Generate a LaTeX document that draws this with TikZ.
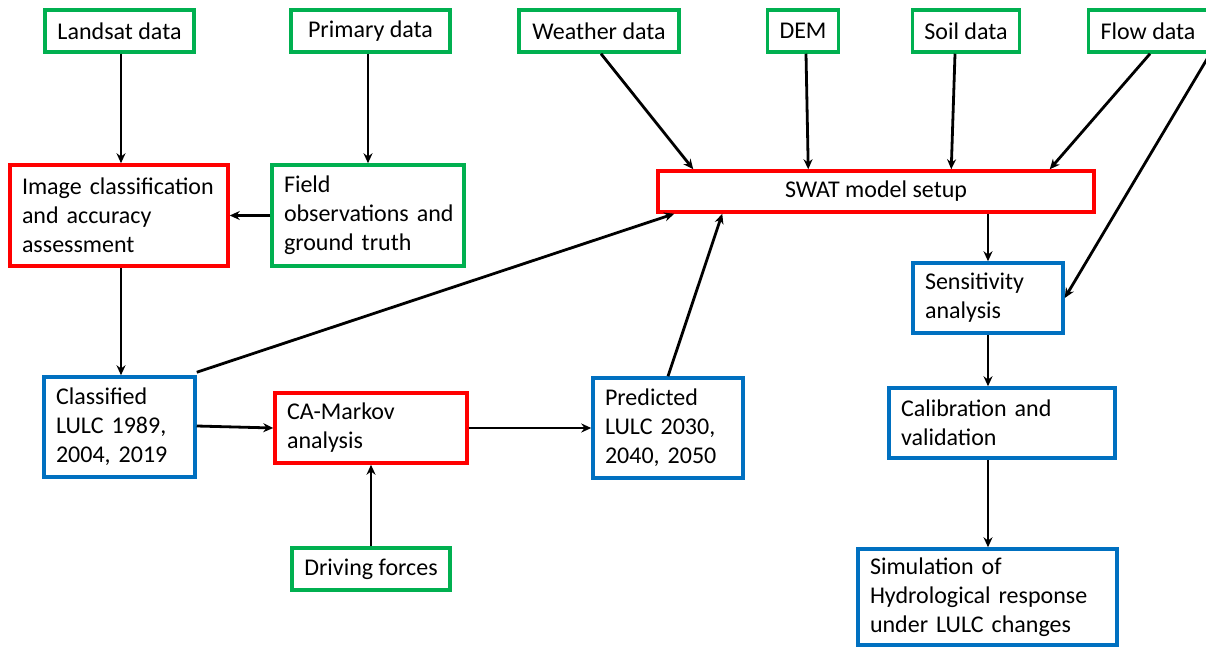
\documentclass[tikz,border=0pt]{standalone}
\usepackage{fontspec}
\setmainfont{Carlito}
\usetikzlibrary{arrows.meta,calc}
\definecolor{gr}{RGB}{0,176,80}
\definecolor{rd}{RGB}{255,0,0}
\definecolor{bl}{RGB}{0,112,192}
\tikzset{
  box/.style={draw, line width=3.5pt, inner xsep=12pt, inner ysep=0pt, font=\fontsize{24}{29}\selectfont},
  gbox/.style={box, draw=gr},
  rbox/.style={box, draw=rd},
  bbox/.style={box, draw=bl},
  arr/.style={line width=2.8pt, -{Stealth[length=10pt,width=9pt]}},
}
% centred one-line box
\newcommand{\cbx}[6]{\node[#1, minimum width=#4pt, minimum height=#5pt, align=center] (#2) at (#3) {#6};}
% left-aligned multi-line box
\newcommand{\lbx}[6]{\node[#1, minimum width=#4pt, minimum height=#5pt, text width=\dimexpr #4pt-24pt\relax, align=left] (#2) at (#3) {#6};}
\begin{document}
\begin{tikzpicture}[x=1pt,y=-1pt]
\useasboundingbox (0,0) rectangle (1206,647);
\fill[white] (0,0) rectangle (1206,647);
\cbx{gbox}{land}{119.5,31}{149}{42}{Landsat data}
\cbx{gbox}{prim}{370.5,31}{159}{42}{Primary data}
\cbx{gbox}{weath}{599,31}{160}{42}{Weather data}
\cbx{gbox}{dem}{803,31}{70}{42}{DEM}
\cbx{gbox}{soil}{966,31}{106}{42}{Soil data}
\cbx{gbox}{flow}{1148,31}{112}{42}{Flow data}
\lbx{rbox}{img}{119,215.5}{218}{101}{Image~classification\\and~accuracy\\assessment}
\lbx{gbox}{field}{368,215.5}{192}{101}{Field\\observations~and\\ground~truth}
\cbx{rbox}{swat}{876,191.5}{436}{41}{SWAT model setup}
\lbx{bbox}{sens}{988,298}{150}{70}{Sensitivity\\analysis}
\lbx{bbox}{cls}{119.5,427}{151}{100}{Classified\\LULC~1989,\\2004,~2019}
\lbx{rbox}{ca}{371,428}{192}{70}{CA-Markov\\analysis}
\lbx{bbox}{pred}{668,428}{150}{100}{Predicted\\LULC~2030,\\2040,~2050}
\lbx{bbox}{calib}{1002,423}{226}{70}{Calibration~and\\validation}
\cbx{gbox}{drive}{371,569}{158}{42}{Driving forces}
\lbx{bbox}{sim}{987.5,597}{259}{96}{Simulation~of\\Hydrological~response\\under~LULC~changes}
% connectors
\draw[arr] ([xshift=1.5pt]land.south) -- ([xshift=1.5pt]land.south |- img.north);
\draw[arr] ([xshift=-2.5pt]prim.south) -- ([xshift=-2.5pt]prim.south |- field.north);
\draw[arr] (field.west) -- (img.east);
\draw[arr] ([xshift=2pt]img.south) -- ([xshift=2pt]img.south |- cls.north);
\draw[arr] ([yshift=1pt]cls.east) -- (ca.west);
\draw[arr] (ca.east) -- (pred.west);
\draw[arr] (drive.north) -- (ca.south);
\draw[arr] ([yshift=3pt]cls.north east) -- ([xshift=18pt]swat.south west);
\draw[arr] (pred.north) -- ([xshift=66pt]swat.south west);
\draw[arr] ([xshift=2pt]weath.south) -- ([xshift=37pt]swat.north west);
\draw[arr] ([xshift=3pt]dem.south) -- ([xshift=152pt]swat.north west);
\draw[arr] ([xshift=-11pt]soil.south) -- ([xshift=295pt]swat.north west);
\draw[arr] ([xshift=2pt]flow.south) -- ([xshift=-46pt]swat.north east);
\draw[arr] ([xshift=1pt]flow.south east) -- (sens.east);
\draw[arr] (sens.north |- swat.south) -- (sens.north);
\draw[arr] (sens.south) -- (sens.south |- calib.north);
\draw[arr] (sens.south |- calib.south) -- (sens.south |- sim.north);
\end{tikzpicture}
\end{document}
